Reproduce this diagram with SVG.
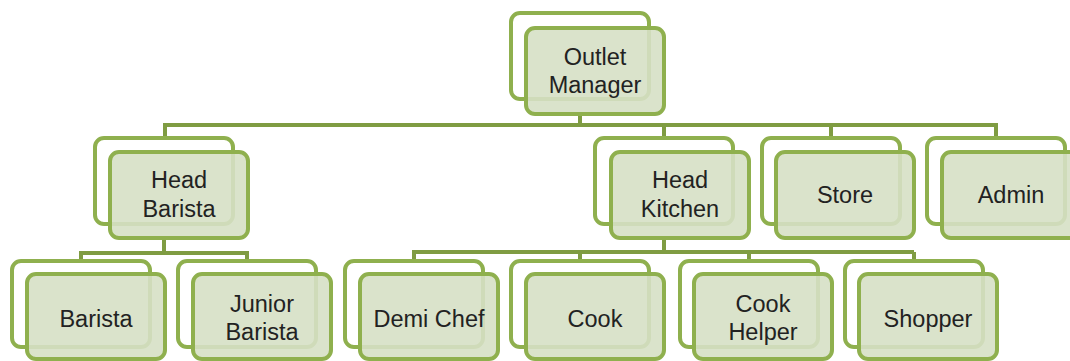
<svg xmlns="http://www.w3.org/2000/svg" width="1070" height="361" viewBox="0 0 1070 361">
<style>
.bk{fill:#ffffff;stroke:#8fb04e;stroke-width:4}
.fr{fill:#d6e0c5;fill-opacity:0.9;stroke:#8fb04e;stroke-width:4}
.ln{fill:none;stroke:#7f9c42;stroke-width:4;stroke-linejoin:miter}
text{font-family:"Liberation Sans",Arial,sans-serif;font-size:23.5px;fill:#222222;text-anchor:middle}
</style>
<rect width="1070" height="361" fill="#ffffff"/>
<g id="connectors">
<path class="ln" d="M580,114 V125 M165,138 V125 H996 V138 M664,125 V138 M831,125 V138"/>
<path class="ln" d="M164,238 V253 M81,261 V253 H247 V261"/>
<path class="ln" d="M664,238 V252 M414,261 V252 H914 V252 M580,252 V261 M749,252 V261 M914,252 V261"/>
</g>
<g id="n-outlet-manager">
<rect class="bk" x="511" y="13" width="138" height="86" rx="9"/>
<rect class="fr" x="526" y="28" width="138" height="86" rx="9"/>
<text x="595" y="65">Outlet</text><text x="595" y="93">Manager</text>
</g>
<g id="n-head-barista">
<rect class="bk" x="95" y="138" width="138" height="86" rx="9"/>
<rect class="fr" x="110" y="152" width="138" height="86" rx="9"/>
<text x="179" y="188">Head</text><text x="179" y="217">Barista</text>
</g>
<g id="n-head-kitchen">
<rect class="bk" x="595" y="138" width="138" height="86" rx="9"/>
<rect class="fr" x="611" y="152" width="138" height="86" rx="9"/>
<text x="680" y="188">Head</text><text x="680" y="217">Kitchen</text>
</g>
<g id="n-store">
<rect class="bk" x="762" y="138" width="138" height="86" rx="9"/>
<rect class="fr" x="776" y="152" width="138" height="86" rx="9"/>
<text x="845" y="203">Store</text>
</g>
<g id="n-admin">
<rect class="bk" x="927" y="138" width="138" height="86" rx="9"/>
<rect class="fr" x="942" y="152" width="138" height="86" rx="9"/>
<text x="1011" y="203">Admin</text>
</g>
<g id="n-barista">
<rect class="bk" x="12" y="261" width="138" height="86" rx="9"/>
<rect class="fr" x="27" y="274" width="138" height="85" rx="9"/>
<text x="96" y="327">Barista</text>
</g>
<g id="n-junior-barista">
<rect class="bk" x="178" y="261" width="138" height="86" rx="9"/>
<rect class="fr" x="193" y="274" width="138" height="85" rx="9"/>
<text x="262" y="312">Junior</text><text x="262" y="340">Barista</text>
</g>
<g id="n-demi-chef">
<rect class="bk" x="345" y="261" width="138" height="86" rx="9"/>
<rect class="fr" x="360" y="274" width="138" height="85" rx="9"/>
<text x="429" y="327">Demi Chef</text>
</g>
<g id="n-cook">
<rect class="bk" x="511" y="261" width="138" height="86" rx="9"/>
<rect class="fr" x="526" y="274" width="138" height="85" rx="9"/>
<text x="595" y="327">Cook</text>
</g>
<g id="n-cook-helper">
<rect class="bk" x="680" y="261" width="138" height="86" rx="9"/>
<rect class="fr" x="694" y="274" width="138" height="85" rx="9"/>
<text x="763" y="312">Cook</text><text x="763" y="340">Helper</text>
</g>
<g id="n-shopper">
<rect class="bk" x="845" y="261" width="138" height="86" rx="9"/>
<rect class="fr" x="859" y="274" width="138" height="85" rx="9"/>
<text x="928" y="327">Shopper</text>
</g>
</svg>
